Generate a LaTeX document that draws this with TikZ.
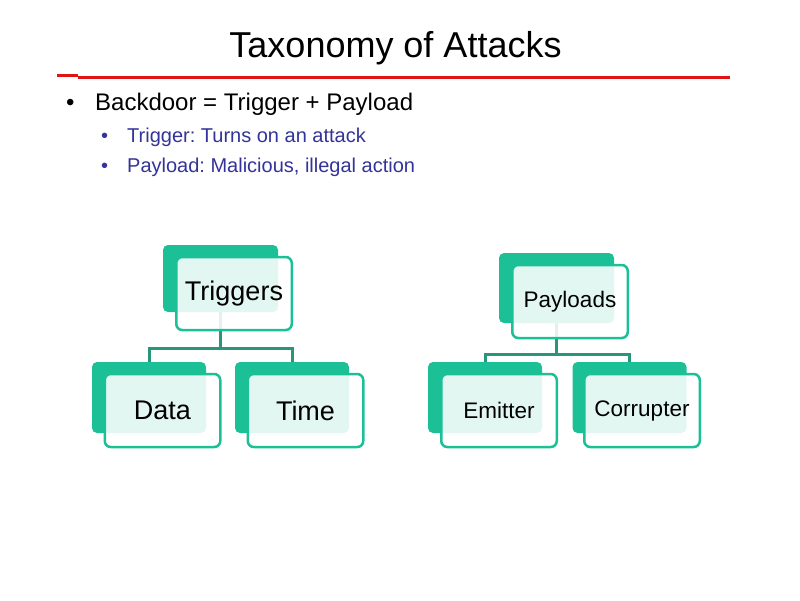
\documentclass[tikz,border=0pt]{standalone}
\usepackage{fontspec}
\setmainfont{Liberation Sans}
\frenchspacing
\definecolor{tgreen}{RGB}{27,192,150}
\definecolor{tline}{RGB}{40,150,122}
\definecolor{tred}{RGB}{225,20,20}
\definecolor{tblue}{RGB}{51,51,153}
\tikzset{
  backbox/.style={draw=none, fill=tgreen, rounded corners=5pt, minimum width=114pt, minimum height=70pt, inner sep=0pt},
  frontbox/.style={draw=tgreen, line width=2.5pt, fill=white, fill opacity=0.88, text opacity=1, rounded corners=6pt, minimum width=115.5pt, minimum height=73pt, inner sep=0pt},
  conn/.style={draw=tline, line width=3pt},
  bigtxt/.style={font=\fontsize{27}{30}\selectfont},
  smalltxt/.style={font=\fontsize{22.5}{26}\selectfont},
}
\begin{document}
\begin{tikzpicture}[x=1pt,y=-1pt]
\useasboundingbox (0,0) rectangle (800,600);
% title
\node[anchor=base, font=\fontsize{36}{40}\selectfont, inner sep=0] (title) at (395.5,57) {Taxonomy of Attacks};
\draw[tred, line width=3pt] (57,75.5) -- (78,75.5);
\draw[tred, line width=3pt] (78,77.5) -- (730,77.5);
% bullets
\node[anchor=base west, font=\fontsize{24}{28}\selectfont, inner sep=0] (b1) at (66,110) {•};
\node[anchor=base west, font=\fontsize{24}{28}\selectfont, inner sep=0] (t1) at (95,110) {Backdoor = Trigger + Payload};
\node[anchor=base west, font=\fontsize{20}{24}\selectfont, text=tblue, inner sep=0] (b2) at (101,142) {•};
\node[anchor=base west, font=\fontsize{20}{24}\selectfont, text=tblue, inner sep=0] (t2) at (127,142) {Trigger: Turns on an attack};
\node[anchor=base west, font=\fontsize{20}{24}\selectfont, text=tblue, inner sep=0] (b3) at (101,172) {•};
\node[anchor=base west, font=\fontsize{20}{24}\selectfont, text=tblue, inner sep=0] (t3) at (127,172) {Payload: Malicious, illegal action};
% back boxes
\node[backbox, minimum width=115pt, minimum height=67pt] (tb) at (220.5,278.5) {};
\node[backbox, minimum width=115pt] (pb) at (556.5,288) {};
\node[backbox, minimum height=71pt] (db) at (149,397.5) {};
\node[backbox, minimum height=71pt] (mb) at (292,397.5) {};
\node[backbox, minimum height=71pt] (eb) at (485,397.5) {};
\node[backbox, minimum height=71pt] (cb) at (629.5,397.5) {};
% connectors
\coordinate (tj) at (220.5,348);
\coordinate (pj) at (556.5,354);
\draw[conn] (tb.south) -- (tj) -| (db.north);
\draw[conn] (tj) -| (mb.north);
\draw[conn] (pb.south) -- (pj) -| (eb.north);
\draw[conn] (pj) -| (cb.north);
% front boxes
\node[frontbox, bigtxt] (tf) at (234,293.5) {Triggers};
\node[frontbox, smalltxt] (pf) at (570,301.5) {Payloads};
\node[frontbox, bigtxt] (df) at (162.5,410.5) {Data};
\node[frontbox, bigtxt] (mf) at (305.5,410.5) {Time};
\node[frontbox, smalltxt] (ef) at (499,410.5) {Emitter};
\node[frontbox, smalltxt] (cf) at (642,410.5) {Corrupter};
\end{tikzpicture}
\end{document}
